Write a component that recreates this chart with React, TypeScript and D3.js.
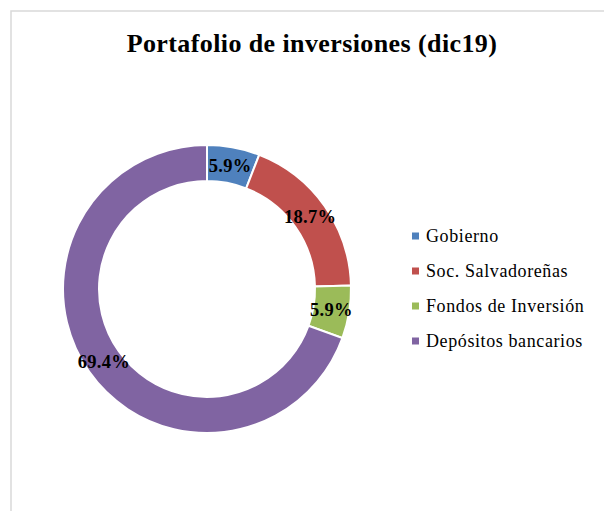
import React from "react";
import * as d3 from "d3";

const categories = ["Gobierno", "Soc. Salvadoreñas", "Fondos de Inversión", "Depósitos bancarios"];
const values = [5.9, 18.7, 5.9, 69.4];
const colors = ["#4f81bd", "#c0504d", "#9bbb59", "#8064a2"];
const title = "Portafolio de inversiones (dic19)";

export default function App() {
  const W = 604, H = 511;
  const cx = 207, cy = 289, outerR = 144, innerR = 108;
  const pie = d3.pie<number>().sort(null).value((d) => d)(values);
  const arc = d3.arc<d3.PieArcDatum<number>>().innerRadius(innerR).outerRadius(outerR);
  const labelArc = d3.arc<d3.PieArcDatum<number>>().innerRadius((innerR + outerR) / 2).outerRadius((innerR + outerR) / 2);
  const legendY = d3.scalePoint<string>().domain(categories).range([236, 341]);
  return (
    <svg width={W} height={H} style={{ position: "absolute", left: 0, top: 0, display: "block" }}>
      <rect x={0} y={0} width={W} height={H} fill="#fff" />
      <rect x={11} y={11} width={W + 20} height={H + 20} fill="#fff" stroke="#d9d9d9" strokeWidth={1.5} />
      <text x={312} y={52} textAnchor="middle" fontFamily="'Liberation Serif', serif" fontWeight="bold" fontSize={26} letterSpacing={0.4} fill="#000">
        {title}
      </text>
      <g transform={`translate(${cx},${cy})`}>
        {pie.map((p, i) => (
          <path key={i} d={arc(p) || ""} fill={colors[i]} stroke="#fff" strokeWidth={2} />
        ))}
        {pie.map((p, i) => {
          const [x, y] = labelArc.centroid(p);
          return (
            <text key={"l" + i} x={x} y={y} dy="0.35em" textAnchor="middle" fontFamily="'Liberation Serif', serif" fontWeight="bold" fontSize={18.5} letterSpacing={0.3} fill="#000">
              {values[i].toFixed(1)}%
            </text>
          );
        })}
      </g>
      {categories.map((c, i) => (
        <g key={c} transform={`translate(412,${legendY(c)})`}>
          <rect x={0} y={-3.5} width={7} height={7} fill={colors[i]} />
          <text x={14} y={0} dy="0.35em" fontFamily="'Liberation Serif', serif" fontSize={18} letterSpacing={0.6} fill="#000">
            {c}
          </text>
        </g>
      ))}
    </svg>
  );
}
